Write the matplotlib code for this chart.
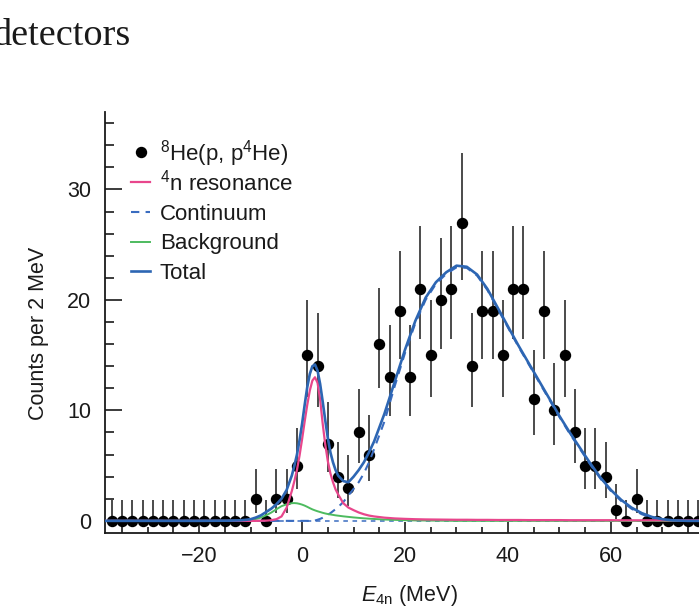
import matplotlib
matplotlib.use("Agg")
import matplotlib.pyplot as plt
from matplotlib.lines import Line2D
from matplotlib.ticker import MultipleLocator

plt.rcParams['font.family'] = ['Liberation Sans', 'DejaVu Sans']
plt.rcParams['mathtext.fontset'] = 'custom'
plt.rcParams['mathtext.rm'] = 'Liberation Sans'
plt.rcParams['mathtext.it'] = 'Liberation Sans:italic'
plt.rcParams['mathtext.bf'] = 'Liberation Sans:bold'

# Measured missing-mass spectrum: bin centres (MeV) and counts per 2 MeV
energy = list(range(-37, 80, 2))
counts = ([0] * 14
          + [2, 0, 2, 2, 5, 15, 14, 7, 4, 3, 8, 6, 16, 13, 19, 13, 21, 15, 20,
             21, 27, 14, 19, 19, 15, 21, 21, 11, 19, 10, 15, 8, 5, 5, 4, 1, 0, 2]
          + [0] * 7)

# 68% confidence intervals (lower, upper) for each observed count
count_interval = {
    0: (0.0, 1.87), 1: (0.17, 3.32), 2: (0.71, 4.66), 3: (1.37, 5.94),
    4: (2.09, 7.18), 5: (2.85, 8.40), 6: (3.63, 9.60), 7: (4.42, 10.78),
    8: (5.24, 11.96), 10: (6.90, 14.28), 11: (7.74, 15.43), 13: (9.45, 17.71),
    14: (10.31, 18.84), 15: (11.18, 19.97), 16: (12.05, 21.09),
    19: (14.68, 24.44), 20: (15.57, 25.56), 21: (16.46, 26.66),
    27: (21.84, 33.27),
}

# Fit components sampled in energy
curve_e = [-40, -30, -20, -14, -12, -11, -10, -9, -8, -7,
           -6, -5, -4, -3, -2, -1.5, -1, -0.5, 0, 0.5,
           1, 1.5, 2, 2.5, 3, 3.5, 4, 4.5, 5, 5.5,
           6, 6.5, 7, 8, 9, 10, 11, 12, 13, 14,
           16, 18, 20, 22, 24, 26, 28, 30, 32, 34,
           36, 38, 40, 42, 44, 46, 48, 50, 52, 54,
           56, 58, 60, 62, 64, 66, 68, 70, 72, 75,
           80]
resonance = [0, 0, 0, 0, 0, 0, 0, 0, 0.01, 0.02,
             0.06, 0.15, 0.4, 1.2, 2.7, 3.6, 4.6, 5.9, 7.4, 9.0,
             10.5, 11.8, 12.7, 13.0, 12.5, 11.0, 8.8, 6.9, 5.4, 4.3,
             3.5, 2.85, 2.4, 1.6, 1.2, 0.97, 0.76, 0.6, 0.48, 0.4,
             0.29, 0.22, 0.18, 0.15, 0.13, 0.12, 0.11, 0.1, 0.1, 0.09,
             0.09, 0.08, 0.08, 0.08, 0.07, 0.07, 0.07, 0.07, 0.06, 0.06,
             0.06, 0.06, 0.06, 0.05, 0.05, 0.05, 0.05, 0.05, 0.05, 0.04,
             0.04]
background = [0, 0, 0, 0, 0, 0.03, 0.08, 0.17, 0.3, 0.5,
              0.75, 1.05, 1.33, 1.5, 1.6, 1.61, 1.59, 1.54, 1.47, 1.38,
              1.27, 1.15, 1.04, 0.95, 0.87, 0.8, 0.73, 0.67, 0.62, 0.58,
              0.54, 0.5, 0.47, 0.41, 0.36, 0.31, 0.27, 0.23, 0.2, 0.17,
              0.12, 0.09, 0.06, 0.04, 0.03, 0.02, 0.01, 0, 0, 0,
              0, 0, 0, 0, 0, 0, 0, 0, 0, 0,
              0, 0, 0, 0, 0, 0, 0, 0, 0, 0,
              0]
continuum = [0, 0, 0, 0, 0, 0, 0, 0, 0, 0,
             0, 0, 0, 0, 0, 0, 0, 0, 0, 0,
             0, 0, 0, 0.03, 0.1, 0.18, 0.28, 0.4, 0.55, 0.7,
             0.88, 1.06, 1.25, 1.7, 2.3, 2.9, 3.5, 4.3, 5.3, 6.5,
             9.0, 12.2, 15.2, 17.9, 20.0, 21.45, 22.35, 22.95, 22.9, 22.2,
             20.9, 19.2, 17.5, 15.8, 14.2, 12.6, 11.0, 9.4, 7.9, 6.5,
             5.1, 3.8, 2.7, 1.8, 1.1, 0.6, 0.28, 0.1, 0.02, 0,
             0]
total = [0, 0, 0, 0.02, 0.05, 0.09, 0.15, 0.3, 0.5, 0.8,
         1.1, 1.5, 2.0, 2.8, 4.1, 5.0, 6.0, 7.3, 8.8, 10.5,
         12.1, 13.3, 14.0, 14.15, 13.6, 12.4, 10.8, 9.1, 7.5, 6.2,
         5.3, 4.6, 4.1, 3.6, 3.5, 4.0, 4.6, 5.3, 6.2, 7.2,
         9.7, 12.6, 15.5, 18.1, 20.2, 21.6, 22.5, 23.1, 23.0, 22.3,
         21.0, 19.3, 17.6, 15.9, 14.3, 12.7, 11.1, 9.5, 8.0, 6.6,
         5.2, 3.9, 2.8, 1.9, 1.2, 0.7, 0.35, 0.15, 0.05, 0,
         0]

x_ticks = [-20, 0, 20, 40, 60]
y_ticks = [0, 10, 20, 30]

PINK = '#e8468c'
GREEN = '#4dbb5f'
BLUE = '#2d66b3'
DASH_BLUE = '#3a6cc0'
INK = '#1a1a1a'

W, H = 699, 610
fig = plt.figure(figsize=(W / 100, H / 100), dpi=100)
fig.text(-0.011, 0.926, 'detectors', family=['Liberation Serif', 'DejaVu Serif'],
         fontsize=27.5, color=INK, ha='left', va='baseline')

ax = fig.add_axes([0.1502, 0.1262, 0.871, 0.690])
ax.set_xlim(-38.3, 80)
ax.set_ylim(-1.1, 37)

lower = [c - count_interval[c][0] for c in counts]
upper = [count_interval[c][1] - c for c in counts]

ax.errorbar(energy, counts, yerr=[lower, upper], fmt='none', ecolor=INK,
            elinewidth=1.1, capsize=0, zorder=2)
ax.plot(energy, counts, 'o', color='black', markersize=7.2, zorder=3)

ax.axhline(0, color=DASH_BLUE, lw=1.1, ls=(0, (3, 3)), zorder=3.5)
ax.plot(curve_e, continuum, color=DASH_BLUE, lw=1.5, ls=(0, (4, 3)), zorder=4)
ax.plot(curve_e, background, color=GREEN, lw=1.4, zorder=4.2)
ax.plot(curve_e, resonance, color=PINK, lw=1.6, zorder=4.5)
ax.plot(curve_e, total, color=BLUE, lw=1.9, zorder=5)

for side in ('top', 'right'):
    ax.spines[side].set_visible(False)
for side in ('left', 'bottom'):
    ax.spines[side].set_linewidth(1.3)
    ax.spines[side].set_color(INK)

ax.set_xticks(x_ticks)
ax.set_yticks(y_ticks)
ax.xaxis.set_minor_locator(MultipleLocator(5))
ax.yaxis.set_minor_locator(MultipleLocator(2))
ax.tick_params(axis='both', which='both', direction='in', color=INK, width=1.2,
               labelsize=15.5, labelcolor=INK)
ax.tick_params(axis='x', which='major', length=8, pad=9)
ax.tick_params(axis='x', which='minor', length=4)
ax.tick_params(axis='y', which='major', length=12.5, pad=10)
ax.tick_params(axis='y', which='minor', length=6.5)

ax.set_ylabel('Counts per 2 MeV', fontsize=15.5, color=INK)
ax.yaxis.set_label_coords(-0.092, 0.475)
ax.set_xlabel(r'$E_{\mathrm{4n}}$ (MeV)', fontsize=15.5, color=INK, labelpad=12)

# Legend, laid out row by row (pixel positions from the top-left corner)
legend_rows = [
    (r'$^{8}$He(p, p$^{4}$He)', dict(marker='o', ls='none', color='black',
                                      markersize=7.2), 152),
    (r'$^{4}$n resonance', dict(color=PINK, lw=1.6), 182),
    ('Continuum', dict(color=DASH_BLUE, lw=1.5, ls=(0, (4, 3))), 212),
    ('Background', dict(color=GREEN, lw=1.4), 241.5),
    ('Total', dict(color=BLUE, lw=1.9), 271),
]
hx0, hx1, tx = 131, 150, 160
for label, style, yc in legend_rows:
    yf = 1 - yc / H
    if style.get('marker'):
        fig.add_artist(Line2D([(hx0 + hx1) / 2 / W], [yf],
                              transform=fig.transFigure, **style))
    else:
        fig.add_artist(Line2D([hx0 / W, hx1 / W], [yf, yf],
                              transform=fig.transFigure, **style))
    fig.text(tx / W, 1 - (yc + 8) / H, label, fontsize=16, color=INK,
             ha='left', va='baseline')

fig.savefig('out.png', dpi=100)
